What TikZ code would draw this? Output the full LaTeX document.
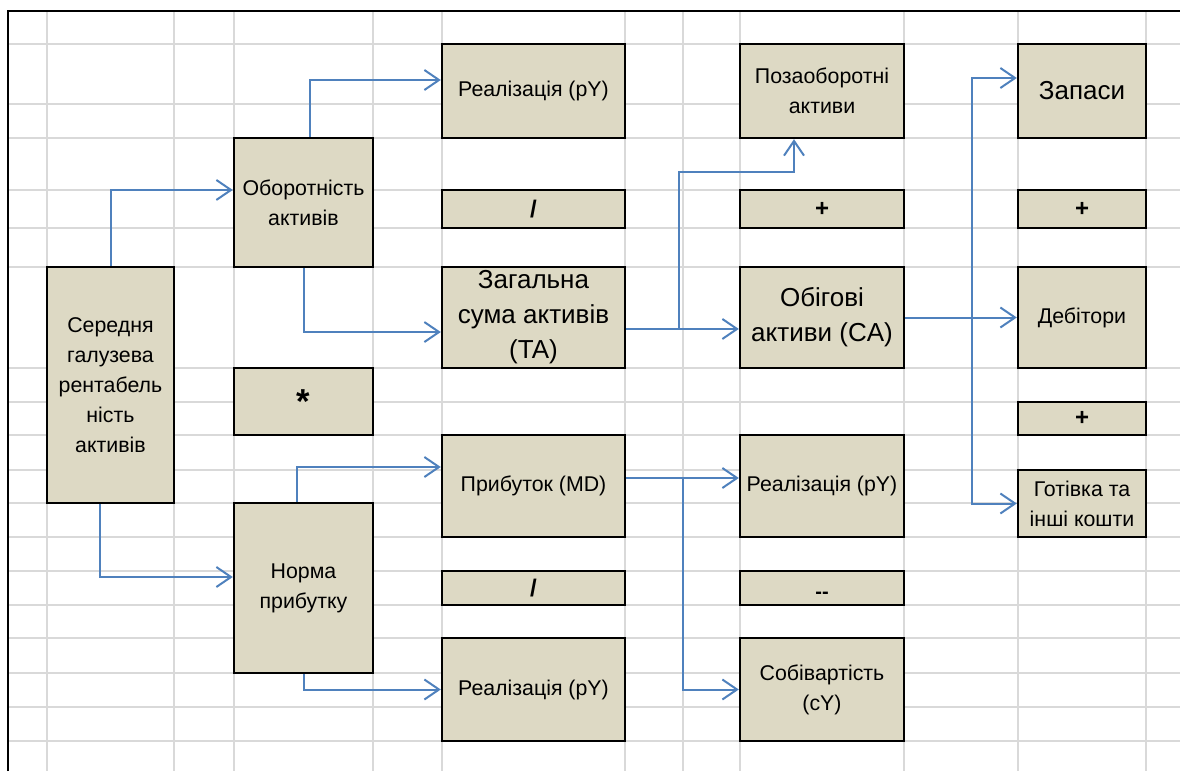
\documentclass[tikz,border=0pt]{standalone}
\usepackage{fontspec}
\setmainfont{Liberation Sans}
\usetikzlibrary{arrows.meta}
\definecolor{boxfill}{HTML}{DDD9C4}
\definecolor{linkblue}{HTML}{4F81BD}
\definecolor{gridgray}{HTML}{D9D9D9}
\tikzset{
  box/.style={draw, line width=1.8pt, fill=boxfill, align=center, inner sep=1pt,
    font=\fontsize{16}{22.5}\selectfont},
  big/.style={font=\fontsize{19.5}{26.25}\selectfont},
  sign/.style={font=\fontsize{18}{20}\selectfont\bfseries},
  colA/.style={minimum width=95.25pt},
  colB/.style={minimum width=104.25pt},
  colC/.style={minimum width=137.25pt},
  colD/.style={minimum width=123pt},
  colE/.style={minimum width=96pt},
  link/.style={draw=linkblue, line width=1.5pt, -{Straight Barb[length=11pt,width=15pt]}},
  gridline/.style={draw=gridgray, line width=1.1pt},
}
\begin{document}
\begin{tikzpicture}[x=0.75pt,y=-0.75pt]
	\useasboundingbox (0,0) rectangle (1180,771);
	% sheet grid
	\foreach \gx in {47,174,234,373,442,625,683,740,904,1018,1146}
		\draw[gridline] (\gx,11) -- (\gx,771);
	\foreach \gy in {44,104,138,190,228,267,368,402,435,470,503,537,571,605,638,673,707,741}
		\draw[gridline] (8,\gy) -- (1180,\gy);
	\draw[line width=1.5pt] (8,771) -- (8,11) -- (1180,11);

	\node[box, colA, minimum height=177pt] (ser) at (110.5,385) {Середня\\галузева\\рентабель\\ність\\активів};
	\node[box, colB, minimum height=96.75pt] (obor) at (303.5,202.5) {Оборотність\\активів};
	\node[box, colB, minimum height=50.25pt, font=\fontsize{26}{26}\selectfont\bfseries] (mult) at (303.5,401.5) {\raisebox{-4pt}{*}};
	\node[box, colB, minimum height=127.5pt] (norma) at (303.5,588) {Норма\\прибутку};

	\node[box, colC, minimum height=70.5pt] (realA) at (533.5,91) {Реалізація (pY)};
	\node[box, colC, minimum height=28.5pt, sign] (divA) at (533.5,209) {/};
	\node[box, colC, minimum height=75.75pt, big] (zag) at (533.5,317.5) {Загальна\\сума активів\\(TA)};
	\node[box, colC, minimum height=76.5pt] (prib) at (533.5,486) {Прибуток (MD)};
	\node[box, colC, minimum height=25.5pt, sign] (divB) at (533.5,588) {/};
	\node[box, colC, minimum height=77.25pt] (realB) at (533.5,689.5) {Реалізація (pY)};

	\node[box, colD, minimum height=70.5pt] (poza) at (822,91) {Позаоборотні\\активи};
	\node[box, colD, minimum height=28.5pt, sign] (plusA) at (822,209) {+};
	\node[box, colD, minimum height=75.75pt, big] (obig) at (822,317.5) {Обігові\\активи (CA)};
	\node[box, colD, minimum height=76.5pt] (realC) at (822,486) {Реалізація (pY)};
	\node[box, colD, minimum height=25.5pt, sign, font=\fontsize{15}{18}\selectfont\bfseries] (minus) at (822,588) {\raisebox{-7.5pt}[0pt][0pt]{-{}-}};
	\node[box, colD, minimum height=77.25pt] (sob) at (822,689.5) {Собівартість\\(cY)};

	\node[box, colE, minimum height=70.5pt, big] (zap) at (1082,91) {Запаси};
	\node[box, colE, minimum height=28.5pt, sign] (plusB) at (1082,209) {+};
	\node[box, colE, minimum height=75.75pt] (deb) at (1082,317.5) {Дебітори};
	\node[box, colE, minimum height=24.75pt, sign] (plusC) at (1082,418.5) {+};
	\node[box, colE, minimum height=50.25pt] (got) at (1082,503.5) {Готівка та\\інші кошти};

	% junctions
	\coordinate (jTA) at (679,329);
	\coordinate (jMD) at (683,478);
	\coordinate (jCA) at (972,318);

	\draw[link] (ser.north) |- ([yshift=9.4pt]obor.west);
	\draw[link] ([xshift=-7.9pt]ser.south) |- ([yshift=8.25pt]norma.west);
	\draw[link] ([xshift=4.9pt]obor.north) |- ([yshift=8.25pt]realA.west);
	\draw[link] (obor.south) |- ([yshift=-10.9pt]zag.west);
	\draw[link] ([xshift=-4.9pt]norma.north) |- ([yshift=14.25pt]prib.west);
	\draw[link] (norma.south) |- (realB.west);

	\draw[link] ([yshift=-8.6pt]zag.east) -- ([yshift=-8.6pt]obig.west);
	\draw[link] (jTA) |- ([xshift=-21pt,yshift=-24.75pt]poza.south) -- ([xshift=-21pt]poza.south);
	\draw[link] ([yshift=6pt]prib.east) -- ([yshift=6pt]realC.west);
	\draw[link] (jMD) |- (sob.west);
	\draw[link] (obig.east) -- (deb.west);
	\draw[link] (jCA) |- ([yshift=9.75pt]zap.west);
	\draw[link] (jCA) |- (got.west);
\end{tikzpicture}
\end{document}
